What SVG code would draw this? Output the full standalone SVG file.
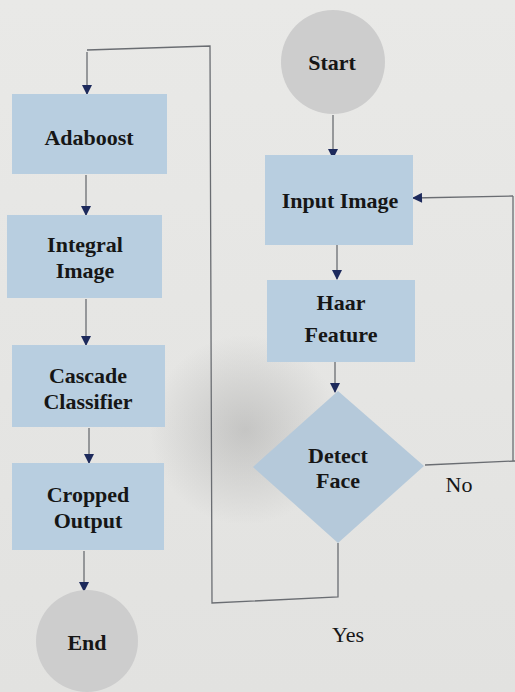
<svg xmlns="http://www.w3.org/2000/svg" width="515" height="692" viewBox="0 0 515 692">
<style>
.box{fill:#b8cee0}
.term{fill:#cdcdcd}
.lbl{font-family:"Liberation Serif",serif;font-weight:bold;font-size:22px;fill:#161616;text-anchor:middle}
.yn{font-family:"Liberation Serif",serif;font-size:22px;fill:#161616;text-anchor:middle}
.ln{fill:none;stroke:#6a6d72;stroke-width:1.3}
.ar{fill:none;stroke:#6a6d72;stroke-width:1.3;marker-end:url(#ah)}
</style>
<defs>
<marker id="ah" viewBox="0 0 10 10" refX="9" refY="5" markerWidth="12" markerHeight="10" markerUnits="userSpaceOnUse" orient="auto">
<path d="M0,0 L10,5 L0,10 z" fill="#1d2a5c"/>
</marker>
<radialGradient id="sh" cx="0.5" cy="0.5" r="0.5">
<stop offset="0" stop-color="#8a8a8a" stop-opacity="0.35"/>
<stop offset="1" stop-color="#8a8a8a" stop-opacity="0"/>
</radialGradient>
<linearGradient id="bg" x1="0" y1="0" x2="0" y2="1">
<stop offset="0" stop-color="#e9e9e7"/>
<stop offset="1" stop-color="#e2e2e0"/>
</linearGradient>
</defs>
<rect x="0" y="0" width="515" height="692" fill="url(#bg)"/>
<ellipse cx="245" cy="430" rx="95" ry="95" fill="url(#sh)"/>
<g id="connectors">
<path class="ln" d="M87,50 L210,46 L212,603 L338,597 L338,543"/>
<path class="ar" d="M87,52 L87,94"/>
<path class="ar" d="M86,175 L86,215"/>
<path class="ar" d="M86,299 L86,345"/>
<path class="ar" d="M89,428 L89,463"/>
<path class="ar" d="M84,551 L84,591"/>
<path class="ar" d="M333,115 L333,158"/>
<path class="ar" d="M337,237 L337,279"/>
<path class="ar" d="M335,353 L335,392"/>
<path class="ln" d="M425,465 L515,461"/>
<path class="ln" d="M513,461 L513,196"/>
<path class="ar" d="M513,196 L413,198"/>
</g>
<g id="adaboost"><rect class="box" x="12" y="94" width="155" height="80"/><text class="lbl" x="89" y="145">Adaboost</text></g>
<g id="integral"><rect class="box" x="7" y="215" width="155" height="83"/><text class="lbl" x="85" y="252">Integral</text><text class="lbl" x="85" y="278">Image</text></g>
<g id="cascade"><rect class="box" x="12" y="345" width="153" height="82"/><text class="lbl" x="88" y="383">Cascade</text><text class="lbl" x="88" y="409">Classifier</text></g>
<g id="cropped"><rect class="box" x="12" y="463" width="152" height="87"/><text class="lbl" x="88" y="502">Cropped</text><text class="lbl" x="88" y="528">Output</text></g>
<g id="end"><circle class="term" cx="87" cy="641" r="51"/><text class="lbl" x="87" y="650">End</text></g>
<g id="start"><circle class="term" cx="333" cy="62" r="52"/><text class="lbl" x="332" y="70">Start</text></g>
<g id="input"><rect class="box" x="265" y="155" width="148" height="90"/><text class="lbl" x="340" y="208">Input Image</text></g>
<g id="haar"><rect class="box" x="267" y="280" width="148" height="82"/><text class="lbl" x="341" y="310">Haar</text><text class="lbl" x="341" y="342">Feature</text></g>
<g id="detect"><path fill="#b5c9da" d="M338,391 L424,466 L338,543 L253,467 z"/><text class="lbl" x="338" y="463">Detect</text><text class="lbl" x="338" y="488">Face</text></g>
<g id="labels"><text class="yn" x="459" y="492">No</text><text class="yn" x="348" y="642">Yes</text></g>
</svg>
